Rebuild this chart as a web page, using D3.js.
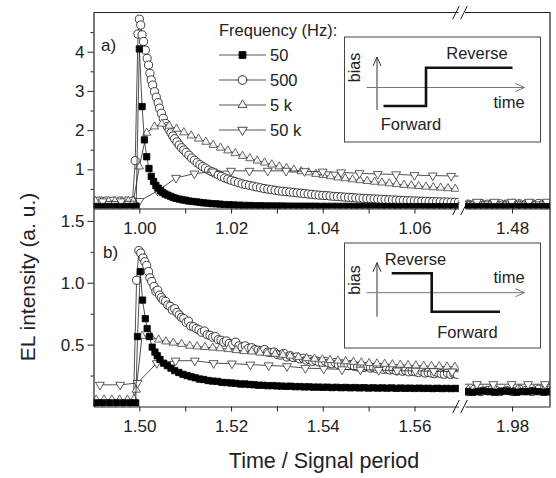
<!DOCTYPE html>
<html>
<head>
<meta charset="utf-8">
<script src="https://cdn.jsdelivr.net/npm/d3@7"></script>
<style>
  body { margin: 0; background: #fff; }
  svg { display: block; font-family: "Liberation Sans", Arial, sans-serif; }
  .tick text { font-family: "Liberation Sans Narrow", "Arial Narrow", sans-serif; font-size: 17px; fill: #222; }
  .tick line, .domain { stroke: #222; }
</style>
</head>
<body>
<div id="chart"></div>
<script>
// ---- data: [time / signal period, EL intensity] ----
const freqs = ['50', '500', '5 k', '50 k'];

// panel a) early part (around 1.00)
const a50 = [[0.9905,.05],[0.9920,.05],[0.9935,.05],[0.9950,.05],[0.9965,.05],[0.9980,.05],[0.9993,.06],
  [1.0000,4.07],[1.0006,2.60],[1.0011,1.75],[1.0016,1.32],[1.0021,1.02],[1.0026,.82],[1.0031,.69],[1.0036,.59],
  [1.0041,.52],[1.0046,.46],[1.0051,.41],[1.0056,.37],[1.0062,.34],[1.0068,.31],[1.0074,.28],[1.0080,.26],
  [1.0087,.24],[1.0094,.22],[1.0101,.21],[1.0108,.19],[1.0116,.18],[1.0124,.17],[1.0132,.155],[1.0140,.145],
  [1.0149,.135],[1.0158,.125],[1.0167,.12],[1.0176,.11],[1.0186,.10],[1.0196,.095],[1.0206,.09],[1.0217,.085],
  [1.0228,.08],[1.0240,.076],[1.0252,.073],[1.0264,.07],[1.0276,.068],[1.0288,.066],[1.0300,.064],[1.0312,.063],
  [1.0324,.062],[1.0336,.06],[1.0348,.06],[1.0360,.059],[1.0372,.058],[1.0384,.057],[1.0396,.056],[1.0408,.056],
  [1.0420,.055],[1.0432,.055],[1.0444,.054],[1.0456,.054],[1.0468,.053],[1.0480,.053],[1.0492,.052],[1.0504,.052],
  [1.0516,.051],[1.0528,.051],[1.0540,.05],[1.0552,.05],[1.0564,.05],[1.0576,.049],[1.0588,.049],[1.0600,.048],
  [1.0612,.048],[1.0624,.048],[1.0636,.047],[1.0648,.047],[1.0660,.047],[1.0672,.046],[1.0684,.046],[1.0696,.046],[1.0708,.045]];

const a500 = [[0.9912,.19],[0.9927,.19],[0.9942,.19],[0.9957,.19],[0.9972,.19],[0.9985,.19],
  [0.9991,1.22],[0.9997,4.45],[1.0000,4.83],[1.0003,4.68],[1.0006,4.43],[1.0009,4.26],[1.0013,4.04],[1.0017,3.83],
  [1.0020,3.66],[1.0023,3.45],[1.0026,3.28],[1.0029,3.15],[1.0033,2.98],[1.0037,2.84],[1.0041,2.70],[1.0044,2.56],
  [1.0048,2.43],[1.0052,2.30],[1.0057,2.17],[1.0061,2.09],[1.0065,2.01],[1.0069,1.93],[1.0073,1.85],[1.0077,1.78],
  [1.0082,1.70],[1.0087,1.62],[1.0092,1.55],[1.0097,1.49],[1.0102,1.43],[1.0108,1.36],[1.0114,1.29],[1.0120,1.23],
  [1.0126,1.17],[1.0132,1.12],[1.0138,1.07],[1.0144,1.03],[1.0151,.98],[1.0158,.94],[1.0165,.90],[1.0172,.86],
  [1.0179,.82],[1.0186,.78],[1.0193,.75],[1.0200,.72],[1.0208,.69],[1.0216,.66],[1.0224,.63],[1.0232,.61],
  [1.0240,.59],[1.0248,.57],[1.0256,.55],[1.0264,.53],[1.0272,.51],[1.0280,.495],[1.0288,.48],[1.0296,.465],
  [1.0304,.45],[1.0312,.44],[1.0320,.43],[1.0328,.42],[1.0336,.41],[1.0344,.40],[1.0352,.39],[1.0360,.38],
  [1.0368,.37],[1.0376,.36],[1.0384,.35],[1.0392,.34],[1.0400,.335],[1.0408,.33],[1.0416,.32],[1.0424,.31],
  [1.0432,.305],[1.0440,.30],[1.0448,.29],[1.0456,.285],[1.0464,.28],[1.0472,.27],[1.0480,.265],[1.0488,.26],
  [1.0496,.255],[1.0504,.25],[1.0512,.245],[1.0520,.24],[1.0528,.235],[1.0536,.23],[1.0544,.225],[1.0552,.22],
  [1.0560,.215],[1.0568,.21],[1.0576,.205],[1.0584,.20],[1.0592,.198],[1.0600,.195],[1.0608,.19],[1.0616,.186],
  [1.0624,.183],[1.0632,.18],[1.0640,.177],[1.0648,.174],[1.0656,.17],[1.0664,.168],[1.0672,.165],[1.0680,.162],
  [1.0688,.16],[1.0696,.158],[1.0704,.156]];

const a5k = [[0.9904,.19],[0.9918,.19],[0.9933,.19],[0.9947,.19],[0.9962,.19],[0.9976,.19],[0.9987,.19],
  [1.0000,1.07],[1.0016,1.93],[1.0033,2.09],[1.0049,2.16],[1.0065,2.11],[1.0081,2.03],[1.0097,1.94],[1.0113,1.86],
  [1.0129,1.78],[1.0145,1.70],[1.0161,1.62],[1.0177,1.55],[1.0193,1.48],[1.0209,1.41],[1.0225,1.34],[1.0241,1.28],
  [1.0257,1.22],[1.0273,1.17],[1.0289,1.12],[1.0305,1.07],[1.0321,1.03],[1.0337,.99],[1.0353,.95],[1.0369,.92],
  [1.0385,.88],[1.0401,.85],[1.0417,.82],[1.0433,.79],[1.0449,.77],[1.0465,.74],[1.0481,.72],[1.0497,.70],
  [1.0513,.68],[1.0529,.66],[1.0545,.64],[1.0561,.62],[1.0577,.60],[1.0593,.585],[1.0609,.57],[1.0625,.555],
  [1.0641,.54],[1.0657,.53],[1.0673,.515],[1.0689,.50],[1.0705,.49]];

const a50k = [[0.9920,.18],[0.9960,.18],[1.0000,.19],[1.0040,.45],[1.0080,.78],[1.0120,.89],[1.0160,.94],
  [1.0200,.96],[1.0240,.96],[1.0280,.96],[1.0320,.96],[1.0360,.95],[1.0400,.94],[1.0440,.92],[1.0480,.90],
  [1.0520,.88],[1.0560,.87],[1.0600,.85],[1.0640,.84],[1.0680,.83],[1.0720,.82]];

// panel a) late part (around 1.48)
const a50Late = [[1.4690,.045],[1.4702,.046],[1.4714,.044],[1.4726,.045],[1.4738,.046],[1.4750,.045],[1.4762,.044],
  [1.4774,.045],[1.4786,.046],[1.4798,.045],[1.4810,.044],[1.4822,.045],[1.4834,.045],[1.4846,.046],[1.4858,.044],
  [1.4870,.045],[1.4882,.045],[1.4894,.044]];
const a500Late = [[1.4690,.12],[1.4704,.11],[1.4718,.12],[1.4732,.13],[1.4746,.11],[1.4760,.12],[1.4774,.12],
  [1.4788,.11],[1.4802,.13],[1.4816,.12],[1.4830,.11],[1.4844,.12],[1.4858,.13],[1.4872,.11],[1.4886,.12]];
const a5kLate = [[1.4688,.10],[1.4704,.10],[1.4720,.11],[1.4736,.10],[1.4752,.10],[1.4768,.11],[1.4784,.10],
  [1.4800,.10],[1.4816,.11],[1.4832,.10],[1.4848,.10],[1.4864,.11],[1.4880,.10],[1.4896,.10]];
const a50kLate = [[1.4685,.17],[1.4723,.17],[1.4761,.17],[1.4799,.17],[1.4837,.17],[1.4876,.17],[1.4915,.17]];

// panel b) early part (around 1.50)
const b50 = [[1.4905,.03],[1.4920,.03],[1.4935,.03],[1.4950,.03],[1.4965,.03],[1.4980,.03],[1.4992,.03],
  [1.4996,.565],[1.5002,1.09],[1.5007,.86],[1.5013,.71],[1.5017,.63],[1.5022,.565],[1.5028,.48],[1.5034,.44],
  [1.5039,.41],[1.5045,.38],[1.5053,.35],[1.5061,.33],[1.5069,.31],[1.5077,.29],[1.5086,.275],[1.5095,.26],
  [1.5104,.25],[1.5113,.24],[1.5122,.232],[1.5131,.222],[1.5140,.218],[1.5150,.21],[1.5160,.205],[1.5170,.203],
  [1.5180,.195],[1.5190,.193],[1.5200,.19],[1.5210,.187],[1.5220,.182],[1.5230,.182],[1.5240,.178],[1.5250,.176],
  [1.5260,.172],[1.5270,.172],[1.5280,.168],[1.5290,.169],[1.5300,.166],[1.5310,.165],[1.5320,.163],[1.5330,.164],
  [1.5340,.16],[1.5350,.161],[1.5360,.158],[1.5370,.159],[1.5380,.156],[1.5390,.157],[1.5400,.155],[1.5410,.156],
  [1.5420,.153],[1.5430,.155],[1.5440,.152],[1.5450,.154],[1.5460,.151],[1.5470,.153],[1.5480,.15],[1.5490,.152],
  [1.5500,.149],[1.5510,.151],[1.5520,.149],[1.5530,.15],[1.5540,.148],[1.5550,.15],[1.5560,.147],[1.5570,.149],
  [1.5580,.147],[1.5590,.148],[1.5600,.146],[1.5610,.148],[1.5620,.146],[1.5630,.147],[1.5640,.145],[1.5650,.147],
  [1.5660,.145],[1.5670,.146],[1.5680,.145],[1.5690,.146],[1.5700,.145]];

const b500 = [[1.4912,.02],[1.4927,.02],[1.4942,.02],[1.4957,.02],[1.4972,.02],[1.4987,.02],
  [1.4994,1.02],[1.4999,1.26],[1.5003,1.24],[1.5008,1.20],[1.5012,1.17],[1.5016,1.14],[1.5020,1.09],[1.5023,1.04],
  [1.5027,1.01],[1.5032,.97],[1.5036,.93],[1.5040,.94],[1.5044,.90],[1.5048,.88],[1.5052,.86],[1.5057,.85],
  [1.5062,.82],[1.5067,.81],[1.5072,.78],[1.5077,.79],[1.5082,.76],[1.5087,.74],[1.5092,.72],[1.5097,.71],
  [1.5102,.68],[1.5107,.69],[1.5112,.65],[1.5118,.645],[1.5124,.63],[1.5130,.62],[1.5136,.60],[1.5142,.61],
  [1.5148,.58],[1.5154,.575],[1.5160,.56],[1.5166,.565],[1.5172,.54],[1.5178,.535],[1.5184,.52],[1.5190,.53],
  [1.5196,.51],[1.5203,.50],[1.5210,.52],[1.5217,.49],[1.5224,.48],[1.5231,.49],[1.5238,.47],[1.5245,.475],
  [1.5252,.46],[1.5259,.455],[1.5266,.45],[1.5273,.46],[1.5280,.44],[1.5287,.435],[1.5294,.44],[1.5301,.42],
  [1.5308,.415],[1.5315,.43],[1.5322,.40],[1.5329,.41],[1.5336,.395],[1.5343,.40],[1.5350,.385],[1.5357,.39],
  [1.5364,.375],[1.5371,.38],[1.5378,.365],[1.5385,.37],[1.5392,.36],[1.5399,.355],[1.5406,.365],[1.5413,.35],
  [1.5420,.345],[1.5427,.355],[1.5434,.34],[1.5441,.345],[1.5448,.335],[1.5455,.33],[1.5462,.34],[1.5469,.325],
  [1.5476,.32],[1.5483,.33],[1.5490,.315],[1.5497,.325],[1.5504,.31],[1.5511,.315],[1.5518,.305],[1.5525,.31],
  [1.5532,.30],[1.5539,.305],[1.5546,.295],[1.5553,.30],[1.5560,.29],[1.5567,.295],[1.5574,.285],[1.5581,.29],
  [1.5588,.28],[1.5595,.285],[1.5602,.28],[1.5609,.275],[1.5616,.285],[1.5623,.27],[1.5630,.275],[1.5637,.27],
  [1.5644,.265],[1.5651,.275],[1.5658,.265],[1.5665,.26],[1.5672,.27],[1.5679,.26],[1.5686,.265],[1.5693,.26]];

const b5k = [[1.4906,.055],[1.4923,.055],[1.4940,.055],[1.4957,.055],[1.4974,.055],[1.4988,.06],
  [1.4993,.135],[1.5006,.57],[1.5025,.565],[1.5042,.54],[1.5058,.525],[1.5074,.515],[1.5092,.505],[1.5110,.49],
  [1.5126,.485],[1.5143,.48],[1.5160,.475],[1.5176,.47],[1.5194,.463],[1.5211,.455],[1.5228,.447],[1.5245,.444],
  [1.5263,.435],[1.5278,.43],[1.5296,.425],[1.5313,.417],[1.5329,.41],[1.5347,.40],[1.5365,.39],[1.5382,.385],
  [1.5399,.38],[1.5416,.375],[1.5433,.37],[1.5450,.365],[1.5467,.36],[1.5484,.355],[1.5501,.35],[1.5518,.347],
  [1.5535,.344],[1.5552,.34],[1.5569,.337],[1.5586,.334],[1.5603,.331],[1.5620,.328],[1.5637,.326],[1.5654,.324],
  [1.5671,.322],[1.5688,.32],[1.5705,.318]];

const b50k = [[1.4914,.175],[1.4958,.175],[1.4996,.19],[1.5038,.35],[1.5079,.37],[1.5121,.37],[1.5162,.35],
  [1.5202,.347],[1.5242,.338],[1.5282,.332],[1.5322,.325],[1.5362,.31],[1.5402,.305],[1.5442,.30],[1.5482,.297],
  [1.5522,.294],[1.5562,.29],[1.5602,.288],[1.5642,.285],[1.5682,.282],[1.5722,.28]];

// panel b) late part (around 1.98)
const b50Late = [[1.9690,.12],[1.9702,.12],[1.9714,.115],[1.9726,.12],[1.9738,.125],[1.9750,.12],[1.9762,.115],
  [1.9774,.12],[1.9786,.125],[1.9798,.12],[1.9810,.115],[1.9822,.12],[1.9834,.12],[1.9846,.125],[1.9858,.12],
  [1.9870,.115],[1.9882,.12],[1.9894,.12]];
const b500Late = [[1.9690,.13],[1.9704,.12],[1.9718,.14],[1.9732,.12],[1.9746,.13],[1.9760,.14],[1.9774,.12],
  [1.9788,.13],[1.9802,.12],[1.9816,.14],[1.9830,.13],[1.9844,.12],[1.9858,.14],[1.9872,.13],[1.9886,.12]];
const b5kLate = [[1.9688,.13],[1.9704,.135],[1.9720,.13],[1.9736,.13],[1.9752,.135],[1.9768,.13],[1.9784,.13],
  [1.9800,.135],[1.9816,.13],[1.9832,.13],[1.9848,.135],[1.9864,.13],[1.9880,.13],[1.9896,.135]];
const b50kLate = [[1.9685,.18],[1.9723,.18],[1.9759,.18],[1.9799,.18],[1.9835,.18],[1.9872,.18],[1.9910,.18]];

// ---- axes ticks ----
const xTicksA = [1.00, 1.01, 1.02, 1.03, 1.04, 1.05, 1.06];
const xLabelsA = [1.00, 1.02, 1.04, 1.06];
const xTicksA2 = [1.48];
const xTicksB = [1.50, 1.51, 1.52, 1.53, 1.54, 1.55, 1.56];
const xLabelsB = [1.50, 1.52, 1.54, 1.56];
const xTicksB2 = [1.98];
const yTicksA = [1, 2, 3, 4];
const yMinorA = [0.5, 1.5, 2.5, 3.5, 4.5];
const yTicksB = [0.5, 1.0, 1.5];
const yMinorB = [0.25, 0.75, 1.25];

document.addEventListener('DOMContentLoaded', () => {

  const width = 556;
  const height = 478;

  const left = 93.5, right = 550, breakL = 458.5, breakR = 465;
  const topA = 12.5, bottomA = 208.5, bottomB = 406.5;

  const svg = d3.select('#chart')
                .append('svg')
                .attr('width', width)
                .attr('height', height);

  const xA = d3.scaleLinear().domain([0.99, 1.0696]).range([left, breakL]);
  const xA2 = d3.scaleLinear().domain([1.4697, 1.4883]).range([breakR, right]);
  const xB = d3.scaleLinear().domain([1.49, 1.5696]).range([left, breakL]);
  const xB2 = d3.scaleLinear().domain([1.9697, 1.9883]).range([breakR, right]);
  const yA = d3.scaleLinear().domain([0, 5]).range([bottomA, topA]);
  const yB = d3.scaleLinear().domain([0, 1.6]).range([bottomB, bottomA]);

  const styles = {
    '50':   { type: d3.symbolSquare,   size: 40, rot: 0,   fill: '#000',    stroke: '#000' },
    '500':  { type: d3.symbolCircle,   size: 52, rot: 0,   fill: '#fff',    stroke: '#111' },
    '5 k':  { type: d3.symbolTriangle, size: 30, rot: 0,   fill: '#f4f4f4', stroke: '#444' },
    '50 k': { type: d3.symbolTriangle, size: 34, rot: 180, fill: '#fff',    stroke: '#333' }
  };

  let clipCount = 0;

  function drawSegment(x, y, seriesList) {
    const id = 'clip' + (clipCount++);
    svg.append('clipPath')
       .attr('id', id)
       .append('rect')
       .attr('x', x.range()[0])
       .attr('y', y.range()[1])
       .attr('width', x.range()[1] - x.range()[0])
       .attr('height', y.range()[0] - y.range()[1]);

    const g = svg.append('g').attr('clip-path', 'url(#' + id + ')');

    const line = d3.line()
                   .x((d) => x(d[0]))
                   .y((d) => y(d[1]));

    // draw order: 500, 5 k, 50 k, 50
    [1, 2, 3, 0].forEach((i) => {
      const data = seriesList[i];
      const st = styles[freqs[i]];
      g.append('path')
       .datum(data)
       .attr('fill', 'none')
       .attr('stroke', '#222')
       .attr('stroke-width', 0.8)
       .attr('d', line);
      g.selectAll(null)
       .data(data)
       .enter()
       .append('path')
       .attr('d', d3.symbol().type(st.type).size(st.size))
       .attr('transform', (d) => 'translate(' + x(d[0]) + ',' + y(d[1]) + ') rotate(' + st.rot + ')')
       .attr('fill', st.fill)
       .attr('stroke', st.stroke)
       .attr('stroke-width', 0.8);
    });
  }

  drawSegment(xA, yA, [a50, a500, a5k, a50k]);
  drawSegment(xA2, yA, [a50Late, a500Late, a5kLate, a50kLate]);
  drawSegment(xB, yB, [b50, b500, b5k, b50k]);
  drawSegment(xB2, yB, [b50Late, b500Late, b5kLate, b50kLate]);

  // ---- axes ----
  function xAxis(scale, ticks, labels, yPos) {
    const axis = d3.axisBottom(scale)
                   .tickValues(ticks)
                   .tickSize(5)
                   .tickSizeOuter(0)
                   .tickPadding(8)
                   .tickFormat((d) => labels.some((l) => Math.abs(l - d) < 1e-9) ? d3.format('.2f')(d) : '');
    const g = svg.append('g')
                 .attr('transform', 'translate(0,' + yPos + ')')
                 .call(axis);
    g.select('.domain').attr('stroke-width', 1.2);
  }

  xAxis(xA, xTicksA, xLabelsA, bottomA);
  xAxis(xA2, xTicksA2, xTicksA2, bottomA);
  xAxis(xB, xTicksB, xLabelsB, bottomB);
  xAxis(xB2, xTicksB2, xTicksB2, bottomB);

  function yAxis(scale, major, minor, fmt) {
    svg.append('g')
       .attr('transform', 'translate(' + left + ',0)')
       .call(d3.axisLeft(scale).tickValues(major).tickSize(6).tickSizeOuter(0).tickPadding(3).tickFormat(d3.format(fmt)))
       .select('.domain').attr('stroke-width', 1.2);
    svg.append('g')
       .attr('transform', 'translate(' + left + ',0)')
       .call(d3.axisLeft(scale).tickValues(minor).tickSize(3).tickSizeOuter(0).tickFormat(''))
       .select('.domain').remove();
  }

  yAxis(yA, yTicksA, yMinorA, 'd');
  yAxis(yB, yTicksB, yMinorB, '.1f');

  // top and right frame
  svg.append('path')
     .attr('d', 'M' + left + ',' + topA + 'H' + breakL + 'M' + breakR + ',' + topA + 'H' + right + 'V' + bottomB)
     .attr('fill', 'none')
     .attr('stroke', '#222')
     .attr('stroke-width', 1.2);

  // break marks
  [topA, bottomA, bottomB].forEach((yy) => {
    [breakL - 2.5, breakR - 1].forEach((xx) => {
      svg.append('line')
         .attr('x1', xx - 3.3).attr('y1', yy + 6.5)
         .attr('x2', xx + 3.3).attr('y2', yy - 6.5)
         .attr('stroke', '#222')
         .attr('stroke-width', 1);
    });
  });

  // axis titles
  svg.append('text')
     .attr('transform', 'translate(35,277) rotate(-90)')
     .attr('text-anchor', 'middle')
     .attr('font-size', 21)
     .attr('fill', '#222')
     .text('EL intensity (a. u.)');

  svg.append('text')
     .attr('x', 324)
     .attr('y', 468)
     .attr('text-anchor', 'middle')
     .attr('font-size', 21.5)
     .attr('fill', '#222')
     .text('Time / Signal period');

  // panel labels
  svg.append('text').attr('x', 101).attr('y', 51).attr('font-size', 17).attr('fill', '#222').text('a)');
  svg.append('text').attr('x', 103).attr('y', 258).attr('font-size', 17).attr('fill', '#222').text('b)');

  // ---- legend ----
  const legend = svg.append('g').attr('transform', 'translate(219,0)');
  legend.append('text')
        .attr('x', 0)
        .attr('y', 36)
        .attr('font-size', 16.5)
        .attr('fill', '#222')
        .text('Frequency (Hz):');

  freqs.forEach((f, i) => {
    const st = styles[f];
    const yy = 55 + i * 25;
    legend.append('line')
          .attr('x1', 0).attr('x2', 47)
          .attr('y1', yy).attr('y2', yy)
          .attr('stroke', '#555')
          .attr('stroke-width', 1);
    legend.append('path')
          .attr('d', d3.symbol().type(st.type).size(st.size * 1.15))
          .attr('transform', 'translate(23.5,' + yy + ') rotate(' + st.rot + ')')
          .attr('fill', st.fill)
          .attr('stroke', st.stroke)
          .attr('stroke-width', 0.9);
    legend.append('text')
          .attr('x', 51)
          .attr('y', yy + 6)
          .attr('font-size', 16.5)
          .attr('fill', '#222')
          .text(f);
  });

  // ---- bias insets ----
  function inset(x0, y0, step, labels) {
    const g = svg.append('g').attr('transform', 'translate(' + x0 + ',' + y0 + ')');
    g.append('rect')
     .attr('width', 196).attr('height', 105)
     .attr('fill', '#fff')
     .attr('stroke', '#444')
     .attr('stroke-width', 1);
    // bias arrow
    g.append('path')
     .attr('d', 'M32.5,' + step.vBottom + 'V' + step.vTop + 'M28.5,' + (step.vTop + 9) + 'L32.5,' + step.vTop + 'L36.5,' + (step.vTop + 9))
     .attr('fill', 'none').attr('stroke', '#333').attr('stroke-width', 1);
    // time arrow
    g.append('path')
     .attr('d', 'M22,' + step.hY + 'H180M171,' + (step.hY - 4) + 'L180,' + step.hY + 'L171,' + (step.hY + 4))
     .attr('fill', 'none').attr('stroke', '#777').attr('stroke-width', 1);
    // bias waveform
    g.append('path')
     .attr('d', d3.line()(step.pts))
     .attr('fill', 'none').attr('stroke', '#111').attr('stroke-width', 2.6);
    labels.forEach((l) => {
      g.append('text')
       .attr('x', l[1]).attr('y', l[2])
       .attr('text-anchor', 'middle')
       .attr('font-size', 16.5)
       .attr('fill', '#222')
       .text(l[0]);
    });
    g.append('text')
     .attr('transform', 'translate(15.5,' + step.biasY + ') rotate(-90)')
     .attr('text-anchor', 'middle')
     .attr('font-size', 16)
     .attr('fill', '#222')
     .text('bias');
  }

  inset(344.5, 37,
        { vTop: 20, vBottom: 73, hY: 50.5, biasY: 30.5, pts: [[39, 69], [81.5, 69], [81.5, 30.7], [168, 30.7]] },
        [['Reverse', 132.5, 21.5], ['time', 164.5, 71], ['Forward', 66.5, 92.5]]);

  inset(344.5, 243,
        { vTop: 19.7, vBottom: 73.7, hY: 49.7, biasY: 37, pts: [[47.2, 30.3], [87.2, 30.3], [87.2, 68.7], [155.5, 68.7]] },
        [['Reverse', 71, 22], ['time', 164.5, 40.3], ['Forward', 123, 94.7]]);

});
</script>
</body>
</html>
